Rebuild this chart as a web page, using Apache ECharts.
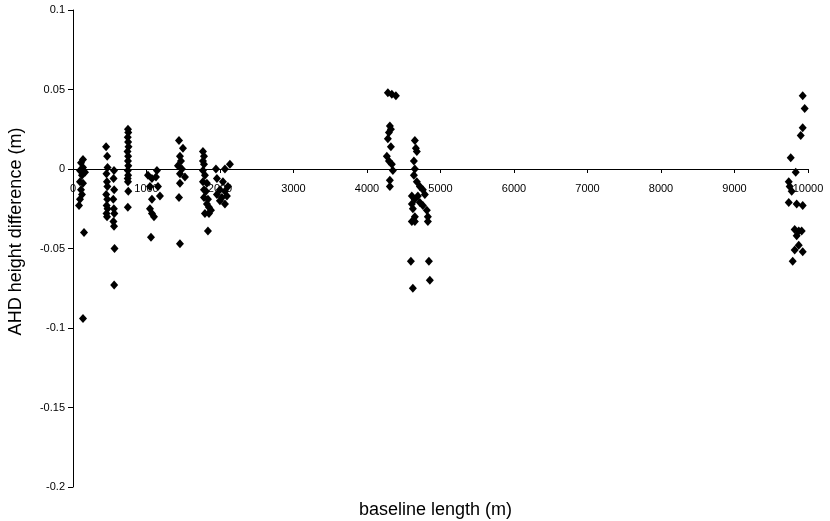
<!DOCTYPE html>
<html>
<head>
<meta charset="utf-8">
<script src="https://cdn.jsdelivr.net/npm/echarts@6/dist/echarts.min.js"></script>
<style>html,body{margin:0;padding:0;background:#fff}</style>
</head>
<body>
<div id="c" style="width:830px;height:521px"></div>
<script>
// baseline length (m)
const baselineLength = [
  136,109,136,95,163,122,95,136,109,122,95,82,150,136,
  450,465,470,455,462,468,452,466,458,470,456,463,
  558,552,560,548,556,562,550,558,565,560,
  748,752,745,750,755,742,750,748,752,746,750,744,748,752,746,
  1020,1142,1074,1129,1047,1156,1183,1074,1047,1074,1102,1061,
  1442,1496,1455,1469,1428,1482,1455,1523,1455,1442,1455,
  1768,1782,1768,1782,1768,1795,1768,1822,1782,1809,1782,1836,1822,1850,1795,1850,1877,1836,
  1945,2067,2135,1958,2040,2108,1999,1958,2067,2026,2094,1999,2067,
  4284,4338,4393,4311,4325,4298,4284,4325,4270,4298,4338,4352,4311,4311,
  4651,4665,4678,4638,4651,4638,4678,4719,4760,4610,4692,4787,4651,4610,4719,4760,4624,4814,4651,4828,4610,4651,4828,4597,4842,4855,4624,
  9928,9955,9928,9901,9765,9833,9738,9751,9778,9738,9846,9928,9819,9874,9914,9846,9874,9819,9928,9792
];
// AHD height difference (m)
const heightDiff = [
  0.006,0.004,0.001,-0.001,-0.002,-0.004,-0.008,-0.009,-0.013,-0.016,-0.019,-0.023,-0.040,-0.094,
  0.014,0.008,0.001,-0.003,-0.008,-0.011,-0.016,-0.019,-0.023,-0.025,-0.028,-0.030,
  -0.001,-0.006,-0.013,-0.019,-0.025,-0.028,-0.033,-0.036,-0.050,-0.073,
  0.025,0.023,0.020,0.017,0.014,0.011,0.008,0.005,0.002,-0.001,-0.004,-0.006,-0.008,-0.014,-0.024,
  -0.004,-0.001,-0.006,-0.005,-0.011,-0.011,-0.017,-0.019,-0.025,-0.028,-0.030,-0.043,
  0.018,0.013,0.008,0.005,0.002,0.000,-0.003,-0.005,-0.009,-0.018,-0.047,
  0.011,0.008,0.005,0.003,-0.001,-0.004,-0.008,-0.009,-0.013,-0.014,-0.018,-0.019,-0.022,-0.024,-0.028,-0.028,-0.026,-0.039,
  0.000,0.000,0.003,-0.006,-0.008,-0.011,-0.013,-0.016,-0.014,-0.018,-0.017,-0.020,-0.022,
  0.048,0.047,0.046,0.027,0.025,0.023,0.019,0.014,0.008,0.005,0.003,-0.001,-0.007,-0.011,
  0.018,0.013,0.011,0.005,0.000,-0.004,-0.008,-0.011,-0.013,-0.017,-0.017,-0.016,-0.019,-0.022,-0.021,-0.023,-0.025,-0.026,-0.030,-0.030,-0.033,-0.033,-0.033,-0.058,-0.058,-0.070,-0.075,
  0.046,0.038,0.026,0.021,0.007,-0.002,-0.008,-0.011,-0.014,-0.021,-0.022,-0.023,-0.038,-0.039,-0.039,-0.042,-0.048,-0.051,-0.052,-0.058
];
const xTicks = {min: 0, max: 10000, interval: 1000};
const yTicks = {min: -0.2, max: 0.1, interval: 0.05};

const points = baselineLength.map((x, i) => [x, heightDiff[i]]);
const font = 'Liberation Sans, Arial, sans-serif';
// plot area: top 10, bottom edge at 487 -> height 477; y=0 lies 0.1/0.3 of the way down
const plotTop = 10, plotH = 477;
const zeroOffset = plotH * (yTicks.max - 0) / (yTicks.max - yTicks.min);
const chart = echarts.init(document.getElementById('c'), null, {renderer: 'canvas', width: 830, height: 521});
chart.setOption({
  animation: false,
  backgroundColor: '#fff',
  grid: [
    {left: 73, right: 22, top: plotTop, height: plotH, containLabel: false, outerBoundsMode: 'none'},
    {left: 73, right: 22, top: plotTop, height: zeroOffset, containLabel: false, outerBoundsMode: 'none'}
  ],
  xAxis: [{
    gridIndex: 0,
    type: 'value', min: xTicks.min, max: xTicks.max, interval: xTicks.interval,
    name: 'baseline length (m)', nameLocation: 'middle', nameGap: 14,
    nameTextStyle: {fontFamily: font, fontSize: 18, color: '#000', verticalAlign: 'top', padding: [0, 10, 0, 0]},
    axisLine: {show: false, onZero: false},
    axisTick: {show: false},
    axisLabel: {show: false},
    splitLine: {show: false}
  }, {
    gridIndex: 1,
    type: 'value', min: xTicks.min, max: xTicks.max, interval: xTicks.interval,
    position: 'bottom',
    axisLine: {show: true, onZero: false, lineStyle: {color: '#000', width: 1}},
    axisTick: {show: true, length: 4, lineStyle: {color: '#000'}},
    axisLabel: {fontFamily: font, fontSize: 11, color: '#000', margin: 14,
      formatter: v => String(v)},
    splitLine: {show: false}
  }],
  yAxis: [{
    gridIndex: 0,
    type: 'value', min: yTicks.min, max: yTicks.max, interval: yTicks.interval,
    name: 'AHD height difference (m)', nameLocation: 'middle', nameGap: 48,
    nameTextStyle: {fontFamily: font, fontSize: 18, color: '#000', padding: [0, 0, 0, 34]},
    axisLine: {show: true, onZero: false, lineStyle: {color: '#000', width: 1}},
    axisTick: {show: true, length: 5, lineStyle: {color: '#000'}},
    axisLabel: {fontFamily: font, fontSize: 11, color: '#000', margin: 8,
      formatter: v => String(+v.toFixed(2))},
    splitLine: {show: false}
  }, {
    gridIndex: 1, type: 'value', min: 0, max: yTicks.max, show: false
  }],
  series: [{
    type: 'scatter',
    xAxisIndex: 0, yAxisIndex: 0,
    data: points,
    symbol: 'diamond',
    symbolSize: [8, 9],
    z: 5,
    itemStyle: {color: '#000', opacity: 1}
  }]
});
</script>
</body>
</html>
